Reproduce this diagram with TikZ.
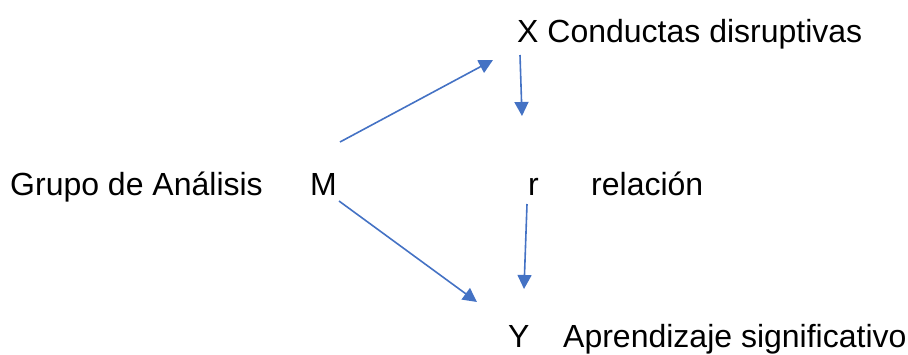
\documentclass[tikz,border=0pt]{standalone}
\usepackage{fontspec}
\setmainfont{Liberation Sans}
\usetikzlibrary{arrows.meta}
\definecolor{arrowblue}{HTML}{4472C4}
\begin{document}
\begin{tikzpicture}[x=1pt,y=-1pt,
  lbl/.style={anchor=base west,inner sep=0pt,font=\fontsize{32}{38}\selectfont},
  conn/.style={draw=arrowblue,line width=1.6pt,-{Triangle[length=14pt,width=14pt]}}]
\useasboundingbox (0,0) rectangle (908,354);
\node[lbl] (x) at (517,42) {X Conductas disruptivas};
\node[lbl] (g) at (10,195) {Grupo de Análisis};
\node[lbl] (m) at (310,195) {M};
\node[lbl] (r) at (528,195) {r};
\node[lbl] (rel) at (591,195) {relación};
\node[lbl] (y) at (508,347) {Y};
\node[lbl] (ap) at (563,347) {Aprendizaje significativo};
\coordinate (m1) at (340,142);
\coordinate (x1) at (493,60);
\coordinate (x2) at (520,55);
\coordinate (r1) at (522,116);
\coordinate (r2) at (527,204);
\coordinate (y1) at (524,289);
\coordinate (m2) at (339,201);
\coordinate (y2) at (477,302);
\draw[conn] (m1) -- (x1);
\draw[conn] (x2) -- (r1);
\draw[conn] (r2) -- (y1);
\draw[conn] (m2) -- (y2);
\end{tikzpicture}
\end{document}
